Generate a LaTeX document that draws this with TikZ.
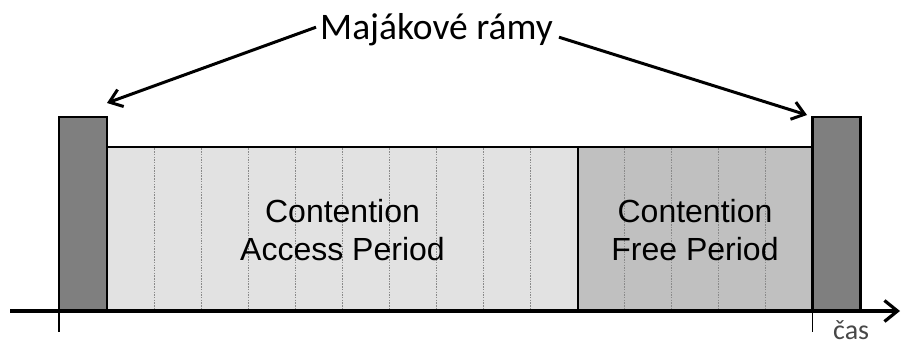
\documentclass[tikz,border=0pt]{standalone}
\usepackage{fontspec}
\setmainfont{Liberation Sans}
\newfontfamily\calfont{Carlito}
\usetikzlibrary{arrows.meta}
\definecolor{beaconfill}{HTML}{7F7F7F}
\definecolor{capfill}{HTML}{E2E2E2}
\definecolor{cfpfill}{HTML}{C0C0C0}
\definecolor{slotgray}{HTML}{8A8A8A}
\begin{document}
\begin{tikzpicture}[x=1pt,y=-1pt,
  frame/.style={draw=black,line width=2.6pt},
  beacon/.style={frame,fill=beaconfill,minimum width=48pt,minimum height=193pt,inner sep=0pt,outer sep=0pt,anchor=south west},
  period/.style={frame,minimum height=163pt,inner sep=0pt,outer sep=0pt,anchor=south west},
  slot/.style={draw=slotgray,line width=1pt,dash pattern=on 1.5pt off 1.2pt,shorten <=1.4pt,shorten >=1.4pt},
  ptext/.style={font=\fontsize{32}{37}\selectfont,align=center,inner sep=0pt},
  pointer/.style={line width=3pt,-{Straight Barb[length=12pt,width=18pt]}},
  tick/.style={line width=1.6pt}
]
\useasboundingbox (0,0) rectangle (902,345);

% periods
\node[period,fill=capfill,minimum width=471pt] (cap) at (107,310) {};
\node[period,fill=cfpfill,minimum width=234pt] (cfp) at (578,310) {};
\foreach \k in {1,...,9}
  \draw[slot] ([xshift=\k*47.1pt]cap.north west) -- ([xshift=\k*47.1pt]cap.south west);
\foreach \k in {1,...,4}
  \draw[slot] ([xshift=\k*46.8pt]cfp.north west) -- ([xshift=\k*46.8pt]cfp.south west);
\draw[frame] (cap.north west) rectangle (cap.south east);
\draw[frame] (cfp.north west) rectangle (cfp.south east);
\node[ptext] (captext) at ([yshift=-1.5pt]cap.center) {Contention\\[1pt]Access Period};
\node[ptext] (cfptext) at ([yshift=-1.5pt]cfp.center) {Contention\\[1pt]Free Period};

% beacons
\node[beacon] (b1) at (59,310) {};
\node[beacon] (b2) at (812.5,310) {};

% time axis
\coordinate (ax0) at (10,311);
\coordinate (ax1) at (900,311);
\draw[line width=3.2pt,-{Straight Barb[length=13pt,width=21pt]}] (ax0) -- (ax1);
\draw[tick] (b1.south west) -- ++(0,22);
\draw[tick] (b2.south west) -- ++(0,22);
\node[font=\calfont\fontsize{28}{32}\selectfont,text=black!72,anchor=base west,inner sep=0pt] (cas) at (833,339) {čas};

% label and pointers
\node[font=\calfont\fontsize{37.5}{44}\selectfont,anchor=base,inner sep=0pt] (lbl) at (436.5,40) {Majákové rámy};
\coordinate (p1) at (107,103);
\coordinate (p2) at (807,115);
\draw[pointer] ([shift={(-4,-3)}]lbl.west) -- (p1);
\draw[pointer] ([shift={(6,7)}]lbl.east) -- (p2);
\end{tikzpicture}
\end{document}
